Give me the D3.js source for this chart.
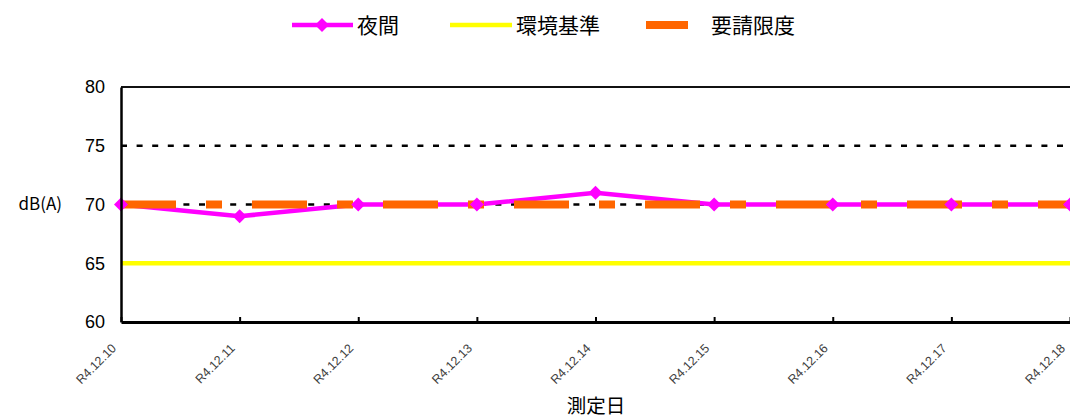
<!DOCTYPE html>
<html>
<head>
<meta charset="utf-8">
<script src="https://cdn.jsdelivr.net/npm/d3@7"></script>
<style>
  html, body { margin: 0; padding: 0; background: #fff; }
  svg { display: block; font-family: "Noto Sans CJK JP", "Noto Sans", sans-serif; }
</style>
</head>
<body>
<svg id="chart" width="1070" height="419"></svg>
<script>
// Night-time noise level per measurement day
const dates = ["R4.12.10", "R4.12.11", "R4.12.12", "R4.12.13", "R4.12.14",
               "R4.12.15", "R4.12.16", "R4.12.17", "R4.12.18"];
const nightValues = [70, 69, 70, 70, 71, 70, 70, 70, 70];
const envStandard = 65;   // 環境基準
const requestLimit = 70;  // 要請限度
const yTicks = [60, 65, 70, 75, 80];
const seriesNames = ["夜間", "環境基準", "要請限度"];

const svg = d3.select("#chart");
const plotLeft = 121, plotRight = 1070, plotTop = 87, plotBottom = 322;

const x = d3.scalePoint().domain(dates).range([plotLeft, plotRight]);
const y = d3.scaleLinear().domain([60, 80]).range([plotBottom, plotTop]);

// dotted gridlines
svg.append("g").selectAll("line")
  .data(yTicks.filter(v => v > 60 && v < 80))
  .join("line")
  .attr("x1", plotLeft).attr("x2", plotRight)
  .attr("y1", d => y(d)).attr("y2", d => y(d))
  .attr("stroke", "#000").attr("stroke-width", 2.5)
  .attr("stroke-dasharray", "6,9.6");

// top border
svg.append("line")
  .attr("x1", plotLeft).attr("x2", plotRight)
  .attr("y1", y(80)).attr("y2", y(80))
  .attr("stroke", "#111").attr("stroke-width", 2);

// environmental standard line
svg.append("line")
  .attr("x1", plotLeft).attr("x2", plotRight)
  .attr("y1", y(envStandard)).attr("y2", y(envStandard))
  .attr("stroke", "#ffff00").attr("stroke-width", 4.5);

// night-time series line
const pts = dates.map((d, i) => [x(d), y(nightValues[i])]);
svg.append("path")
  .attr("d", d3.line()(pts))
  .attr("fill", "none").attr("stroke", "#ff00ff").attr("stroke-width", 4.5);

// request limit (long-short dashed)
svg.append("line")
  .attr("x1", plotLeft).attr("x2", plotRight)
  .attr("y1", y(requestLimit)).attr("y2", y(requestLimit))
  .attr("stroke", "#ff6600").attr("stroke-width", 8)
  .attr("stroke-dasharray", "55,30,16,30");

// night-time markers on top
const diamond = d3.symbol().type(d3.symbolDiamond2).size(125);
svg.append("g").selectAll("path")
  .data(pts).join("path")
  .attr("transform", d => `translate(${d[0]},${d[1]})`)
  .attr("d", diamond)
  .attr("fill", "#ff00ff");

// y axis
const yAxis = d3.axisLeft(y).tickValues(yTicks).tickSize(0).tickPadding(16);
const gy = svg.append("g").attr("transform", `translate(${plotLeft},0)`).call(yAxis);
gy.select(".domain").attr("stroke", "#000").attr("stroke-width", 2.5);
gy.selectAll("text").attr("font-size", 18).attr("fill", "#000")
  .attr("font-family", "'Liberation Sans', Arial, sans-serif");

// x axis with inward ticks
const xAxis = d3.axisBottom(x).tickSize(-5).tickSizeOuter(0).tickFormat("");
const gx = svg.append("g").attr("transform", `translate(0,${plotBottom})`).call(xAxis);
gx.select(".domain").attr("stroke", "#000").attr("stroke-width", 3);
gx.selectAll(".tick line").attr("stroke", "#000").attr("stroke-width", 2);

// rotated date labels
svg.append("g").selectAll("text")
  .data(dates).join("text")
  .attr("transform", d => `translate(${x(d) - 4},${plotBottom + 27}) rotate(-45)`)
  .attr("text-anchor", "end")
  .attr("font-size", 12.5)
  .attr("fill", "#404040")
  .attr("font-family", "'Liberation Sans', Arial, sans-serif")
  .text(d => d);

// axis titles
svg.append("text")
  .attr("x", 62).attr("y", y(70)).attr("dy", "0.35em")
  .attr("text-anchor", "end").attr("font-size", 17).attr("fill", "#000")
  .text("dB(A)");
svg.append("text")
  .attr("x", 596).attr("y", 413)
  .attr("text-anchor", "middle").attr("font-size", 19.5).attr("fill", "#000")
  .text("測定日");

// legend
const leg = svg.append("g");
const ly = 25;
leg.append("line").attr("x1", 292).attr("x2", 353).attr("y1", ly).attr("y2", ly)
  .attr("stroke", "#ff00ff").attr("stroke-width", 4.5);
leg.append("path").attr("transform", `translate(322,${ly})`).attr("d", diamond).attr("fill", "#ff00ff");
leg.append("line").attr("x1", 450).attr("x2", 512).attr("y1", ly).attr("y2", ly)
  .attr("stroke", "#ffff00").attr("stroke-width", 4.5);
leg.append("line").attr("x1", 646).attr("x2", 688).attr("y1", ly).attr("y2", ly)
  .attr("stroke", "#ff6600").attr("stroke-width", 8);
const labelX = [357, 516, 711];
leg.selectAll("text").data(seriesNames).join("text")
  .attr("x", (d, i) => labelX[i]).attr("y", ly).attr("dy", "0.36em")
  .attr("font-size", 21).attr("fill", "#000")
  .text(d => d);
</script>
</body>
</html>
